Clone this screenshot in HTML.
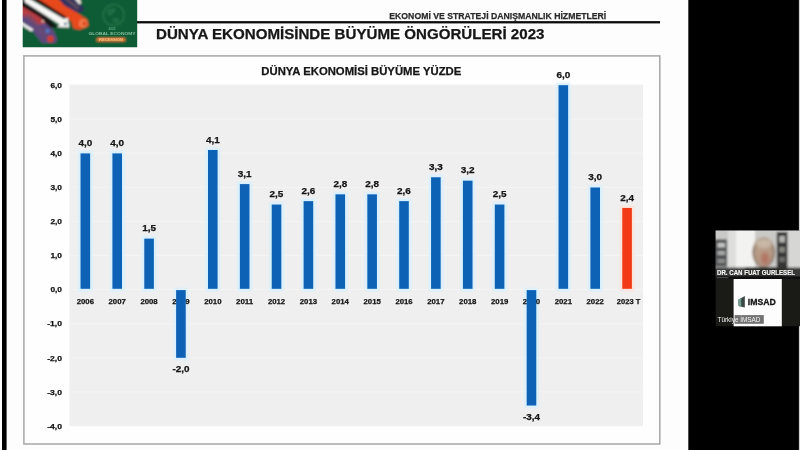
<!DOCTYPE html>
<html lang="tr"><head><meta charset="utf-8"><title>Dünya Ekonomisinde Büyüme Öngörüleri 2023</title>
<style>
html,body{margin:0;padding:0;background:#000;}
body{width:800px;height:450px;overflow:hidden;position:relative;font-family:"Liberation Sans",sans-serif;}
svg{position:absolute;left:0;top:0;display:block}
text{font-family:"Liberation Sans",sans-serif;font-weight:bold}
</style></head><body>
<svg width="800" height="450" viewBox="0 0 800 450">
<defs>
<filter id="b1" x="-5%" y="-5%" width="110%" height="110%"><feGaussianBlur stdDeviation="0.45"/></filter>
<filter id="b3" x="-20%" y="-20%" width="140%" height="140%"><feGaussianBlur stdDeviation="1.6"/></filter>
<filter id="b2" x="-5%" y="-5%" width="110%" height="110%"><feGaussianBlur stdDeviation="0.8"/></filter>
<clipPath id="cv"><rect x="22.7" y="0" width="114.5" height="47.2"/></clipPath>
<clipPath id="cam"><rect x="715.6" y="230.5" width="84.4" height="47.5"/></clipPath>
</defs>

<rect x="0" y="0" width="800" height="450" fill="#000"/>
<rect x="0" y="0" width="688.3" height="450" fill="#fdfdfd"/>
<rect x="2.0" y="0" width="4.6" height="450" fill="#050505" filter="url(#b1)"/>
<rect x="798.9" y="0" width="1.1" height="450" fill="#cfcfcf"/>
<g filter="url(#b1)">
<rect x="137" y="21.1" width="523" height="2.3" fill="#111"/>
<rect x="23.9" y="55.9" width="635.9" height="388.1" fill="#fefefe" stroke="#a6a6a6" stroke-width="1.5"/>
<rect x="69.4" y="85.0" width="573.6" height="341.0" fill="#efefef"/>
<rect x="69.4" y="84.50" width="573.6" height="1" fill="#f4f4f4"/>
<rect x="69.4" y="118.60" width="573.6" height="1" fill="#f4f4f4"/>
<rect x="69.4" y="152.70" width="573.6" height="1" fill="#f4f4f4"/>
<rect x="69.4" y="186.80" width="573.6" height="1" fill="#f4f4f4"/>
<rect x="69.4" y="220.90" width="573.6" height="1" fill="#f4f4f4"/>
<rect x="69.4" y="255.00" width="573.6" height="1" fill="#f4f4f4"/>
<rect x="69.4" y="289.10" width="573.6" height="1" fill="#f4f4f4"/>
<rect x="69.4" y="323.20" width="573.6" height="1" fill="#f4f4f4"/>
<rect x="69.4" y="357.30" width="573.6" height="1" fill="#f4f4f4"/>
<rect x="69.4" y="391.40" width="573.6" height="1" fill="#f4f4f4"/>
<rect x="69.4" y="425.50" width="573.6" height="1" fill="#f4f4f4"/>
<rect x="78.23" y="151.10" width="14.20" height="140.00" fill="#d6f0fe" opacity="1" filter="url(#b2)"/>
<rect x="80.53" y="153.40" width="9.60" height="135.40" fill="#0f62b5"/>
<rect x="110.10" y="151.10" width="14.20" height="140.00" fill="#d6f0fe" opacity="1" filter="url(#b2)"/>
<rect x="112.40" y="153.40" width="9.60" height="135.40" fill="#0f62b5"/>
<rect x="141.97" y="236.35" width="14.20" height="54.75" fill="#d6f0fe" opacity="1" filter="url(#b2)"/>
<rect x="144.27" y="238.65" width="9.60" height="50.15" fill="#0f62b5"/>
<rect x="173.83" y="287.80" width="14.20" height="72.30" fill="#d6f0fe" opacity="0.9" filter="url(#b2)"/>
<rect x="205.70" y="147.69" width="14.20" height="143.41" fill="#d6f0fe" opacity="1" filter="url(#b2)"/>
<rect x="208.00" y="149.99" width="9.60" height="138.81" fill="#0f62b5"/>
<rect x="237.57" y="181.79" width="14.20" height="109.31" fill="#d6f0fe" opacity="1" filter="url(#b2)"/>
<rect x="239.87" y="184.09" width="9.60" height="104.71" fill="#0f62b5"/>
<rect x="269.43" y="202.25" width="14.20" height="88.85" fill="#d6f0fe" opacity="1" filter="url(#b2)"/>
<rect x="271.73" y="204.55" width="9.60" height="84.25" fill="#0f62b5"/>
<rect x="301.30" y="198.84" width="14.20" height="92.26" fill="#d6f0fe" opacity="1" filter="url(#b2)"/>
<rect x="303.60" y="201.14" width="9.60" height="87.66" fill="#0f62b5"/>
<rect x="333.17" y="192.02" width="14.20" height="99.08" fill="#d6f0fe" opacity="1" filter="url(#b2)"/>
<rect x="335.47" y="194.32" width="9.60" height="94.48" fill="#0f62b5"/>
<rect x="365.03" y="192.02" width="14.20" height="99.08" fill="#d6f0fe" opacity="1" filter="url(#b2)"/>
<rect x="367.33" y="194.32" width="9.60" height="94.48" fill="#0f62b5"/>
<rect x="396.90" y="198.84" width="14.20" height="92.26" fill="#d6f0fe" opacity="1" filter="url(#b2)"/>
<rect x="399.20" y="201.14" width="9.60" height="87.66" fill="#0f62b5"/>
<rect x="428.77" y="174.97" width="14.20" height="116.13" fill="#d6f0fe" opacity="1" filter="url(#b2)"/>
<rect x="431.07" y="177.27" width="9.60" height="111.53" fill="#0f62b5"/>
<rect x="460.63" y="178.38" width="14.20" height="112.72" fill="#d6f0fe" opacity="1" filter="url(#b2)"/>
<rect x="462.93" y="180.68" width="9.60" height="108.12" fill="#0f62b5"/>
<rect x="492.50" y="202.25" width="14.20" height="88.85" fill="#d6f0fe" opacity="1" filter="url(#b2)"/>
<rect x="494.80" y="204.55" width="9.60" height="84.25" fill="#0f62b5"/>
<rect x="524.37" y="287.80" width="14.20" height="120.04" fill="#d6f0fe" opacity="0.9" filter="url(#b2)"/>
<rect x="556.23" y="82.90" width="14.20" height="208.20" fill="#d6f0fe" opacity="1" filter="url(#b2)"/>
<rect x="558.53" y="85.20" width="9.60" height="203.60" fill="#0f62b5"/>
<rect x="588.10" y="185.20" width="14.20" height="105.90" fill="#d6f0fe" opacity="1" filter="url(#b2)"/>
<rect x="590.40" y="187.50" width="9.60" height="101.30" fill="#0f62b5"/>
<rect x="619.97" y="205.66" width="14.20" height="85.44" fill="#fbe3da" opacity="1" filter="url(#b2)"/>
<rect x="622.27" y="207.96" width="9.60" height="80.84" fill="#f23a12"/>
</g>
<g filter="url(#b1)" fill="#141414" stroke="#141414" stroke-width="0.25">
<text x="389.3" y="18.9" font-size="9.5" textLength="217" lengthAdjust="spacingAndGlyphs" fill="#2a2a2a" stroke="#2a2a2a">EKONOMİ VE STRATEJİ DANIŞMANLIK HİZMETLERİ</text>
<text x="156" y="38.5" font-size="14.8" textLength="388.5" lengthAdjust="spacingAndGlyphs" fill="#161616">DÜNYA EKONOMİSİNDE BÜYÜME ÖNGÖRÜLERİ 2023</text>
<text x="261.3" y="75.4" font-size="11.1" textLength="200" lengthAdjust="spacingAndGlyphs" >DÜNYA EKONOMİSİ BÜYÜME YÜZDE</text>
<text x="50.4" y="87.7" font-size="7.6" textLength="11.6" lengthAdjust="spacingAndGlyphs">6,0</text>
<text x="50.4" y="121.8" font-size="7.6" textLength="11.6" lengthAdjust="spacingAndGlyphs">5,0</text>
<text x="50.4" y="155.9" font-size="7.6" textLength="11.6" lengthAdjust="spacingAndGlyphs">4,0</text>
<text x="50.4" y="190.0" font-size="7.6" textLength="11.6" lengthAdjust="spacingAndGlyphs">3,0</text>
<text x="50.4" y="224.1" font-size="7.6" textLength="11.6" lengthAdjust="spacingAndGlyphs">2,0</text>
<text x="50.4" y="258.2" font-size="7.6" textLength="11.6" lengthAdjust="spacingAndGlyphs">1,0</text>
<text x="50.4" y="292.3" font-size="7.6" textLength="11.6" lengthAdjust="spacingAndGlyphs">0,0</text>
<text x="47.2" y="326.4" font-size="7.6" textLength="14.8" lengthAdjust="spacingAndGlyphs">-1,0</text>
<text x="47.2" y="360.5" font-size="7.6" textLength="14.8" lengthAdjust="spacingAndGlyphs">-2,0</text>
<text x="47.2" y="394.6" font-size="7.6" textLength="14.8" lengthAdjust="spacingAndGlyphs">-3,0</text>
<text x="47.2" y="428.7" font-size="7.6" textLength="14.8" lengthAdjust="spacingAndGlyphs">-4,0</text>
<text x="78.4" y="145.9" font-size="9.1" textLength="13.8" lengthAdjust="spacingAndGlyphs">4,0</text>
<text x="76.7" y="303.6" font-size="8" textLength="17.3" lengthAdjust="spacingAndGlyphs">2006</text>
<text x="110.3" y="145.9" font-size="9.1" textLength="13.8" lengthAdjust="spacingAndGlyphs">4,0</text>
<text x="108.5" y="303.6" font-size="8" textLength="17.3" lengthAdjust="spacingAndGlyphs">2007</text>
<text x="142.2" y="231.2" font-size="9.1" textLength="13.8" lengthAdjust="spacingAndGlyphs">1,5</text>
<text x="140.4" y="303.6" font-size="8" textLength="17.3" lengthAdjust="spacingAndGlyphs">2008</text>
<text x="172.3" y="303.6" font-size="8" textLength="17.3" lengthAdjust="spacingAndGlyphs">2009</text>
<text x="205.9" y="142.5" font-size="9.1" textLength="13.8" lengthAdjust="spacingAndGlyphs">4,1</text>
<text x="204.2" y="303.6" font-size="8" textLength="17.3" lengthAdjust="spacingAndGlyphs">2010</text>
<text x="237.8" y="176.6" font-size="9.1" textLength="13.8" lengthAdjust="spacingAndGlyphs">3,1</text>
<text x="236.0" y="303.6" font-size="8" textLength="17.3" lengthAdjust="spacingAndGlyphs">2011</text>
<text x="269.6" y="197.1" font-size="9.1" textLength="13.8" lengthAdjust="spacingAndGlyphs">2,5</text>
<text x="267.9" y="303.6" font-size="8" textLength="17.3" lengthAdjust="spacingAndGlyphs">2012</text>
<text x="301.5" y="193.6" font-size="9.1" textLength="13.8" lengthAdjust="spacingAndGlyphs">2,6</text>
<text x="299.8" y="303.6" font-size="8" textLength="17.3" lengthAdjust="spacingAndGlyphs">2013</text>
<text x="333.4" y="186.8" font-size="9.1" textLength="13.8" lengthAdjust="spacingAndGlyphs">2,8</text>
<text x="331.6" y="303.6" font-size="8" textLength="17.3" lengthAdjust="spacingAndGlyphs">2014</text>
<text x="365.2" y="186.8" font-size="9.1" textLength="13.8" lengthAdjust="spacingAndGlyphs">2,8</text>
<text x="363.5" y="303.6" font-size="8" textLength="17.3" lengthAdjust="spacingAndGlyphs">2015</text>
<text x="397.1" y="193.6" font-size="9.1" textLength="13.8" lengthAdjust="spacingAndGlyphs">2,6</text>
<text x="395.4" y="303.6" font-size="8" textLength="17.3" lengthAdjust="spacingAndGlyphs">2016</text>
<text x="429.0" y="169.8" font-size="9.1" textLength="13.8" lengthAdjust="spacingAndGlyphs">3,3</text>
<text x="427.2" y="303.6" font-size="8" textLength="17.3" lengthAdjust="spacingAndGlyphs">2017</text>
<text x="460.8" y="173.2" font-size="9.1" textLength="13.8" lengthAdjust="spacingAndGlyphs">3,2</text>
<text x="459.1" y="303.6" font-size="8" textLength="17.3" lengthAdjust="spacingAndGlyphs">2018</text>
<text x="492.7" y="197.1" font-size="9.1" textLength="13.8" lengthAdjust="spacingAndGlyphs">2,5</text>
<text x="491.0" y="303.6" font-size="8" textLength="17.3" lengthAdjust="spacingAndGlyphs">2019</text>
<text x="522.8" y="303.6" font-size="8" textLength="17.3" lengthAdjust="spacingAndGlyphs">2020</text>
<text x="556.4" y="77.7" font-size="9.1" textLength="13.8" lengthAdjust="spacingAndGlyphs">6,0</text>
<text x="554.7" y="303.6" font-size="8" textLength="17.3" lengthAdjust="spacingAndGlyphs">2021</text>
<text x="588.3" y="180.0" font-size="9.1" textLength="13.8" lengthAdjust="spacingAndGlyphs">3,0</text>
<text x="586.5" y="303.6" font-size="8" textLength="17.3" lengthAdjust="spacingAndGlyphs">2022</text>
<text x="620.2" y="200.5" font-size="9.1" textLength="13.8" lengthAdjust="spacingAndGlyphs">2,4</text>
<text x="616.8" y="303.6" font-size="8" textLength="23.5" lengthAdjust="spacingAndGlyphs">2023 T</text>
</g>
<g filter="url(#b1)">
<rect x="176.13" y="290.10" width="9.60" height="67.70" fill="#0f62b5"/>
<rect x="526.67" y="290.10" width="9.60" height="115.44" fill="#0f62b5"/>
</g>
<g filter="url(#b1)" fill="#141414" stroke="#141414" stroke-width="0.25">
<text x="172.4" y="372.2" font-size="9.1" textLength="17" lengthAdjust="spacingAndGlyphs">-2,0</text>
<text x="523.0" y="419.9" font-size="9.1" textLength="17" lengthAdjust="spacingAndGlyphs">-3,4</text>
</g>
<g clip-path="url(#cv)"><g filter="url(#b2)">
<rect x="20" y="-3" width="120" height="53" fill="#0e5b35"/>
<polygon points="20,4 40,16.7 53.3,30 57,38 56,43 42,43 31,29 20,20" fill="#5c4a80"/>
<polygon points="20,4 40,16.7 47,23 37,25 20,14" fill="#b53c44"/>
<polygon points="24,15 30,15 50,36 44,40" fill="#6a4a74" opacity="0.7"/>
<circle cx="43.5" cy="20.8" r="1.7" fill="#f3cfc6"/>
<circle cx="47.5" cy="31" r="2" fill="#4f7ccc"/>
<circle cx="50.5" cy="39" r="3.3" fill="#d23c2c"/>
<polygon points="20,-1 20,5 40,17 50,27.5 58.5,27.5 30,0" fill="#121212"/>
<polygon points="20,21 20,24.2 31.3,31.4 33.6,29.4" fill="#f4f4f4"/>
<polygon points="56.7,-3 73.3,-3 84,7.8 83,12 75.5,12.5 64.4,6.5" fill="#2e3060"/>
<polygon points="62,-3 67,-3 80,8 77,10" fill="#5a4a5a"/>
<polygon points="73.3,-3 78.5,-3 81.5,3 79,4.5" fill="#ece6de"/>
<polygon points="28,-3 56.7,-3 64.4,5.6 75.5,11.7 87.2,19.4 88.6,26 80,29.8 73.5,28.6 71,21 64.4,18" fill="#e8481f"/>
<polygon points="28,-3 35,-3 66.8,17.2 64.2,19.8" fill="#1a1210"/>
<circle cx="83.3" cy="23.4" r="4.4" fill="#f17a48"/>
<circle cx="84.4" cy="23.6" r="2.1" fill="#e0401c"/>
<polygon points="24.5,-3 28.1,-2 63.6,18.8 67.8,17.9 69.2,27.4 57.3,26.9 59.8,24.6 24.5,2" fill="#f8f8f6"/>
<circle cx="65.3" cy="23.9" r="1.3" fill="#2d4d80"/>
<circle cx="113.7" cy="15" r="10.5" fill="none" stroke="#2a7a4e" stroke-width="1.1"/>
<path d="M106 11 q4 -5 10 -2 q-2 6 -7 7 z M113 18 q5 -1 7 3 q-3 4 -7 1 z" fill="#1f6d45"/>
<rect x="96.5" y="38" width="29" height="3.6" rx="1.6" fill="#e57a32"/>
</g>
<g fill="#86bf9f" filter="url(#b1)">
<text x="108.5" y="30.4" font-size="3.2" textLength="7" lengthAdjust="spacingAndGlyphs" fill="#5fa57f">2023</text>
<text x="88.5" y="35.3" font-size="3.8" textLength="47" lengthAdjust="spacingAndGlyphs">GLOBAL ECONOMY</text>
<text x="99" y="40.9" font-size="3" textLength="24" lengthAdjust="spacingAndGlyphs" fill="#f6c08a">RECESSION</text>
</g></g>

<rect x="715.6" y="230.6" width="84.4" height="95.6" fill="#1a1a17"/>
<g clip-path="url(#cam)"><g filter="url(#b2)">
<rect x="712" y="228" width="90" height="52" fill="#c9c9c7"/>
<rect x="733" y="228" width="22" height="42" fill="#f2f2f0"/>
<rect x="728" y="228" width="8" height="42" fill="#dededc"/>
<rect x="714" y="239.5" width="13" height="27" fill="#4e5052"/>
<rect x="717.5" y="243" width="7.5" height="4.5" fill="#c4c4c2"/>
<rect x="717.5" y="251" width="7.5" height="4" fill="#a9a9a7"/>
<rect x="717.5" y="259" width="7.5" height="4" fill="#8d8d8b"/>
<rect x="776.8" y="232" width="10.6" height="36" fill="#343636"/>
<rect x="779.3" y="236" width="5.6" height="6.5" fill="#b4b4b0"/>
<rect x="779.3" y="247" width="5.6" height="5.5" fill="#86877f"/>
<rect x="779.3" y="257" width="5.6" height="5" fill="#6c6d69"/>
<rect x="788" y="228" width="14" height="52" fill="#d6d6d4"/>
<ellipse cx="763.7" cy="252.5" rx="11.4" ry="15" fill="#8d7c70"/>
<g filter="url(#b3)"><ellipse cx="763.7" cy="253" rx="9.5" ry="13.5" fill="#b89c88"/>
<ellipse cx="763.7" cy="243" rx="9" ry="5" fill="#c9b8a6"/>
<ellipse cx="765" cy="258.5" rx="4.2" ry="6.5" fill="#b0705e" opacity="0.85"/></g>
<rect x="745" y="267" width="38" height="12" fill="#4a4744"/>
<rect x="712" y="267.6" width="90" height="12" fill="#262626" opacity="0.9"/>
</g></g>
<g filter="url(#b1)">
<text x="717" y="274.9" font-size="7.2" textLength="78" lengthAdjust="spacingAndGlyphs" fill="#f4f4f4" stroke="#f4f4f4" stroke-width="0.2">DR. CAN FUAT GURLESEL</text>
</g>
<rect x="715.6" y="276.4" width="84.4" height="2.6" fill="#0e0e0e"/>
<rect x="716.5" y="277.2" width="12" height="1" fill="#555"/>
<g filter="url(#b1)">
<rect x="733.6" y="279" width="48.2" height="47.3" fill="#fdfdfd"/>
<polygon points="738.3,299.8 744.8,295.9 744.8,307.5 738.6,306" fill="#3a4644"/>
<polygon points="738.3,299.8 741.2,298 741.2,306.7 738.6,306" fill="#6f9f90"/>
<text x="747.8" y="305.2" font-size="9.3" textLength="28" lengthAdjust="spacingAndGlyphs" fill="#151515" stroke="#151515" stroke-width="0.3">IMSAD</text>
<rect x="734.6" y="315.1" width="29.2" height="8.7" fill="#727272"/>
<text x="717.5" y="322.3" font-size="7.4" textLength="43" lengthAdjust="spacingAndGlyphs" fill="#f4f4f4" style="font-weight:normal">Türkiye İMSAD</text>
</g>

</svg></body></html>
